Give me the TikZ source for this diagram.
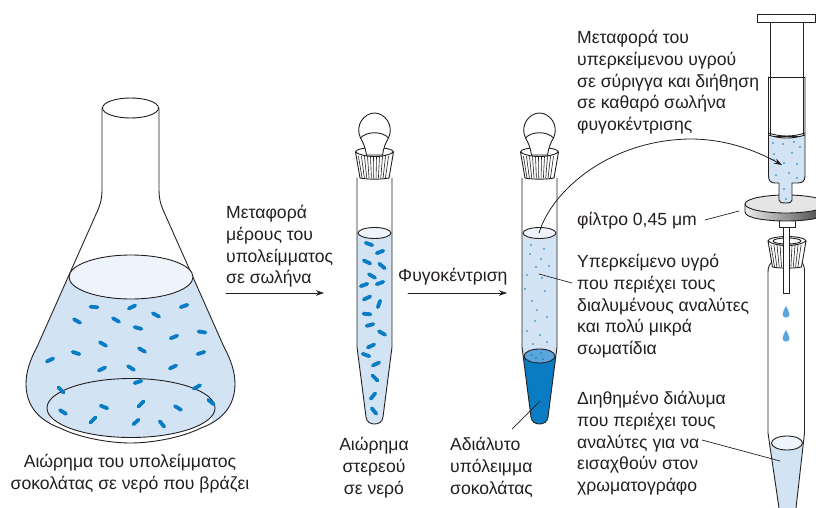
\documentclass[tikz,border=0pt]{standalone}
\usepackage{fontspec}
\setmainfont{Liberation Sans}
\usepackage{tikz}
\usetikzlibrary{arrows.meta}
\definecolor{ink}{HTML}{231F20}
\definecolor{liquid}{HTML}{D2E3F3}
\definecolor{surface}{HTML}{EEF4FB}
\definecolor{pellet}{HTML}{0A7CC4}
\definecolor{pellettop}{HTML}{5AA5DC}
\tikzset{
  every picture/.style={x=1pt,y=-1pt,line join=round,line cap=round,>=Stealth},
  glass/.style={draw=ink,line width=0.9pt},
  leader/.style={draw=ink,line width=0.7pt},
  pointer/.style={draw=ink,line width=0.8pt,-{Stealth[length=8pt,width=5.5pt]}},
  rod/.style={line width=3.8pt,draw=pellet},
  speck/.style={fill=pellet},
  label/.style={inner sep=0pt,text=ink,font=\fontsize{17.6}{21.8}\selectfont},
}
\newcommand{\flaskoutline}{(102,108) -- (102,188) .. controls (102,198) and (101,203) .. (97,212) -- (37,347) .. controls (30,360) and (26,372) .. (26,384) .. controls (26,405) and (38,420) .. (60,428) .. controls (80,438) and (110,443) .. (130.5,443) .. controls (151,443) and (181,438) .. (201,428) .. controls (223,420) and (235,405) .. (235,384) .. controls (235,372) and (231,360) .. (224,347) -- (164,212) .. controls (160,203) and (159,198) .. (159,188) -- (159,108)}
\newcommand{\tubeoutline}{(-17.5,178) -- (-17.5,347) -- (-8.5,417) .. controls (-8,422) and (-4,424) .. (0,424) .. controls (4,424) and (8,422) .. (8.5,417) -- (17.5,347) -- (17.5,178)}
\newcommand{\collarback}{\draw[glass,fill=white] (0,0) ellipse[x radius=19,y radius=4.5];}
\newcommand{\collarfront}{%
  \draw[glass,fill=white] (-19,0) .. controls (-12,6) and (12,6) .. (19,0) -- (14.5,26) .. controls (8,27.5) and (-8,27.5) .. (-14.5,26) -- cycle;
  \foreach \r in {-16,-13,...,16} \draw[leader,line width=0.6pt] (\r,4.5) -- (0.78*\r,26);
}
\begin{document}
\begin{tikzpicture}
\clip (0,0) rectangle (816,508);
% flask
\begin{scope}
\clip \flaskoutline -- cycle;
\fill[liquid] (20,277) -- (240,277) -- (240,426) -- (212,426) -- (212,408) -- (50,408) -- (50,426) -- (20,426) -- cycle;
\fill[liquid] (131,408) ellipse[x radius=84,y radius=29.5];
\end{scope}
\draw[glass] \flaskoutline;
\draw[glass,fill=surface] (131,277) ellipse[x radius=62,y radius=22];
\draw[glass] (131,408) ellipse[x radius=84,y radius=29.5];
\draw[glass,fill=white] (130.5,108) ellipse[x radius=28,y radius=10];
\foreach \x/\y/\a in {94/307/5,132/307/-25,184/306/-20,156/315/28,77/321/30,116/320/30,138/328/15,174/337/-22,202/332/8,103/344/30,76/353/18,142/350/30,50/360/-25,201/353/-18,102/369/-25,131/368/32,173/367/-25,138/382/-18,197/387/-28,61/390/45,211/402/40,141/404/-45,104/407/22,178/408/32,63/412/32,93/420/-45,136/422/-42,162/424/50}
  \draw[rod] (\x,\y) ++(\a:3.5) -- ++(\a+180:7);
% liquid in the two tubes
\foreach \tubex in {374.5,539.5} {
  \begin{scope}[shift={(\tubex,0)}]
  \clip \tubeoutline -- cycle;
  \fill[liquid] (-20,233) rectangle (20,430);
  \end{scope}
}
\foreach \x/\y/\a in {369/244/20,380/252/-20,367/262/25,382/266/40,372/276/30,364/285/-20,380/283/-20,367/298/-25,379/304/-70,367/314/5,370/325/-15,382/333/30,371/346/-25,366/355/20,376/364/-25,375/378/45,373/396/-50,374/411/50}
  \draw[rod] (\x,\y) ++(\a:3.5) -- ++(\a+180:7);
\begin{scope}[shift={(539.5,0)}]
\begin{scope}
\clip \tubeoutline -- cycle;
\fill[pellet] (-20,356) rectangle (20,430);
\end{scope}
\draw[glass,fill=pellettop] (0,356) ellipse[x radius=15.5,y radius=7];
\end{scope}
\foreach \x/\y in {531/245,544/249,530/254,541/259,536/267,549/266,527/275,542/278,525/289,545/291,532/301,537/310,547/317,535/321,527/331,540/335,533/344,547/342,536/358,543/359,541/353,532/355}
  \fill[speck] (\x,\y) circle(0.9);
% tube walls and stoppers
\foreach \tubex in {374.5,539.5} {
  \begin{scope}[shift={(\tubex,0)}]
  \draw[glass] \tubeoutline;
  \draw[glass,fill=surface] (0,233) ellipse[x radius=16.5,y radius=5.5];
  \begin{scope}[shift={(0,152)}]
  \collarback
  \draw[glass,fill=white] (-14,-14) .. controls (-20,-27) and (-10,-39) .. (0,-39) .. controls (10,-39) and (20,-27) .. (14,-14) .. controls (11,-9) and (9,-4) .. (8,3) -- (-8,3) .. controls (-9,-4) and (-11,-9) .. (-14,-14) -- cycle;
  \draw[glass] (-14,-14) .. controls (-8,-21) and (8,-21) .. (14,-14);
  \collarfront
  \end{scope}
  \end{scope}
}
% filtered tube
\begin{scope}
\clip (768,268) -- (768,433) -- (779,508) -- (796,508) -- (804,433) -- (804,268) -- cycle;
\fill[liquid] (760,443) rectangle (810,508);
\end{scope}
\draw[glass] (772,262) .. controls (769,265) and (768,268) .. (768,272) -- (768,433) -- (779,508);
\draw[glass] (802,262) .. controls (804,265) and (804.5,268) .. (804.5,272) -- (804.5,433) -- (796,508);
\draw[glass,fill=surface] (787,443) ellipse[x radius=15.5,y radius=7];
\begin{scope}[shift={(787,241)}]
\collarback
\draw[glass] (0,0) ellipse[x radius=14,y radius=3];
\collarfront
\end{scope}
\draw[glass,fill=white] (783,227) -- (783,293) -- (789,293) -- (789,227) -- cycle;
\foreach \y in {306,330}
  \fill[pellettop] (786,\y) .. controls (787,\y+3) and (789.5,\y+5) .. (789.5,\y+8) .. controls (789.5,\y+10.5) and (788,\y+11.5) .. (786,\y+11.5) .. controls (784,\y+11.5) and (782.5,\y+10.5) .. (782.5,\y+8) .. controls (782.5,\y+5) and (785,\y+3) .. (786,\y) -- cycle;
% filter disc
\draw[glass,fill=white] (779,214) rectangle (795,227);
\shade[left color=gray!15,right color=black!75] (745,204) -- (745,212) .. controls (745,224) and (827,224) .. (827,212) -- (827,204) -- cycle;
\draw[glass] (745,204) -- (745,212) .. controls (745,224) and (827,224) .. (827,212) -- (827,204);
\draw[glass,fill=black!10] (786,204) ellipse[x radius=41,y radius=9];
% syringe
\draw[glass,fill=white] (770,22) rectangle (803,136);
\draw[glass,fill=white] (757,14) rectangle (815,22);
\fill[liquid] (768.5,135) .. controls (780,139) and (793,139) .. (805,135) -- (805,176) .. controls (805,181) and (802,183) .. (798,183) -- (792,183) -- (792,200) .. controls (792,202) and (790,203) .. (786,203) .. controls (781,203) and (779,202) .. (779,200) -- (779,183) -- (775,183) .. controls (771,183) and (768.5,181) .. (768.5,176) -- cycle;
\draw[glass] (768.5,77) -- (805,77);
\draw[glass] (768.5,77) -- (768.5,176) .. controls (768.5,181) and (771,183) .. (775,183) -- (779,183) -- (779,200) .. controls (779,202) and (781,203) .. (786,203) .. controls (790,203) and (792,202) .. (792,200) -- (792,183) -- (798,183) .. controls (802,183) and (805,181) .. (805,176) -- (805,77);
\draw[glass] (768.5,133) .. controls (780,137) and (793,137) .. (805,133);
\draw[glass] (768.5,135) .. controls (780,139) and (793,139) .. (805,135);
\foreach \x/\y in {773/143,783/144,794/142,800/147,792/153,774/154,784/163,797/164,774/160,776/175,789/173,797/178,784/189,786/199}
  \fill[speck] (\x,\y) circle(0.9);
% labels
\node[label,anchor=north west,align=left] (transferlabel) at (226,205) {Μεταφορά\\μέρους του\\υπολείμματος\\σε σωλήνα};
\node[label,anchor=north west] (spinlabel) at (398,268) {Φυγοκέντριση};
\node[label,anchor=north west,align=left] (syringelabel) at (577,30) {Μεταφορά του\\υπερκείμενου υγρού\\σε σύριγγα και διήθηση\\σε καθαρό σωλήνα\\φυγοκέντρισης};
\node[label,anchor=north west] (filterlabel) at (577,212) {φίλτρο 0,45 μm};
\node[label,anchor=north west,align=left] (superlabel) at (577,254) {Υπερκείμενο υγρό\\που περιέχει τους\\διαλυμένους αναλύτες\\και πολύ μικρά\\σωματίδια};
\node[label,anchor=north west,align=left] (filtratelabel) at (577,391) {Διηθημένο διάλυμα\\που περιέχει τους\\αναλύτες για να\\εισαχθούν στον\\χρωματογράφο};
\node[label,anchor=north,align=center] (flasklabel) at (130,454) {Αιώρημα του υπολείμματος\\σοκολάτας σε νερό που βράζει};
\node[label,anchor=north,align=center] (tubelabel) at (374,437) {Αιώρημα\\στερεού\\σε νερό};
\node[label,anchor=north west,align=left] (pelletlabel) at (450,437) {Αδιάλυτο\\υπόλειμμα\\σοκολάτας};
% connectors
\coordinate (transferstart) at (226,293);
\coordinate (transferend) at (324,293);
\coordinate (spinstart) at (408,293);
\coordinate (spinend) at (507,293);
\coordinate (topsurface) at (539,233);
\coordinate (intosyringe) at (782,165);
\coordinate (filterfrom) at (705,220);
\coordinate (filterto) at (739,211);
\coordinate (superfrom) at (572,283);
\coordinate (superto) at (539,274);
\coordinate (pelletfrom) at (512,429);
\coordinate (pelletto) at (540,401);
\coordinate (filtratefrom) at (702,440);
\coordinate (filtrateto) at (780,461);
\draw[pointer] (transferstart) -- (transferend);
\draw[pointer] (spinstart) -- (spinend);
\draw[pointer] (topsurface) .. controls (552,190) and (610,140) .. (690,139) .. controls (725,139) and (755,150) .. (intosyringe);
\draw[leader] (filterfrom) -- (filterto);
\draw[leader] (superfrom) -- (superto);
\draw[leader] (pelletfrom) -- (pelletto);
\draw[leader] (filtratefrom) -- (filtrateto);
\end{tikzpicture}
\end{document}
